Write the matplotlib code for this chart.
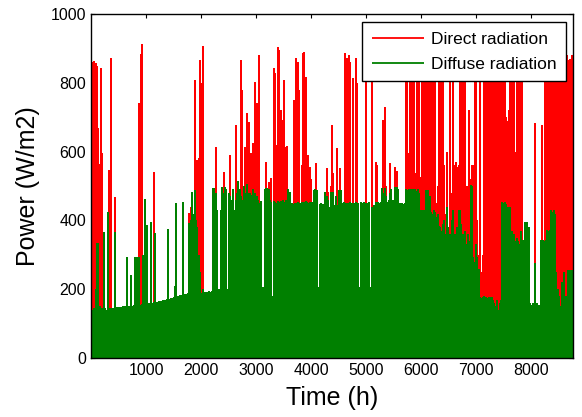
import numpy as np
import matplotlib
matplotlib.use("Agg")
from matplotlib import pyplot as plt

# daily peak radiation (W/m2), one list per month
direct_jan = [860, 855, 862, 858, 850, 670, 565, 843, 596, 110,
              90, 120, 100, 546, 80, 872, 100, 60, 468, 90,
              110, 70, 100, 120, 80, 100, 60, 130, 90, 110, 70]
direct_feb = [80, 100, 120, 90, 110, 740, 885, 912, 130, 100,
              120, 90, 110, 100, 120, 90, 541, 100, 120, 110,
              90, 130, 100, 120, 110, 130, 90, 110]
direct_mar = [100, 120, 90, 110, 130, 100, 120, 90, 110, 100,
              120, 130, 90, 110, 100, 421, 439, 300, 350, 808,
              300, 576, 580, 866, 800, 908, 150, 120, 100, 130, 110]
direct_apr = [120, 110, 130, 150, 613, 200, 150, 180, 300, 250,
              540, 350, 300, 150, 400, 590, 350, 420, 380, 677,
              400, 420, 450, 866, 779, 450, 613, 480, 711, 687]
direct_may = [480, 596, 625, 610, 803, 740, 500, 881, 430, 200,
              180, 440, 570, 440, 512, 450, 523, 160, 843, 828,
              620, 905, 895, 721, 692, 650, 808, 613, 615, 480, 470]
direct_jun = [400, 350, 750, 500, 872, 860, 779, 450, 560, 886,
              891, 817, 500, 590, 555, 520, 400, 350, 450, 567,
              300, 180, 350, 400, 300, 180, 350, 552, 483, 400]
direct_jul = [500, 677, 537, 300, 400, 610, 350, 552, 400, 300,
              450, 888, 872, 500, 881, 860, 450, 814, 400, 872,
              799, 300, 180, 350, 400, 380, 350, 860, 400, 350, 180]
direct_aug = [840, 400, 350, 570, 560, 400, 300, 350, 450, 692,
              730, 500, 400, 350, 567, 400, 300, 140, 555, 545,
              400, 350, 300, 400, 350, 450, 900, 870, 596, 950, 940]
direct_sep = [950, 900, 537, 920, 880, 940, 527, 900, 860, 930,
              890, 480, 900, 870, 600, 920, 880, 940, 450, 500,
              900, 930, 870, 910, 560, 420, 600, 350, 900, 480]
direct_oct = [450, 900, 560, 570, 555, 560, 900, 900, 930, 880,
              920, 500, 460, 720, 520, 561, 560, 900, 880, 400,
              300, 930, 250, 300, 900, 950, 920, 960, 930, 970, 940]
direct_nov = [950, 920, 960, 900, 940, 880, 930, 900, 950, 910,
              700, 690, 720, 920, 950, 900, 930, 600, 940, 900,
              960, 920, 880, 330, 300, 150, 320, 300, 140, 140]
direct_dec = [140, 140, 683, 140, 140, 145, 300, 677, 140, 920,
              950, 900, 880, 960, 930, 900, 870, 950, 920, 880,
              940, 900, 960, 920, 890, 930, 880, 866, 870, 840, 880]

diffuse_jan = [140, 140, 145, 200, 334, 334, 150, 140, 145, 366,
               145, 140, 424, 145, 145, 145, 145, 146, 366, 147,
               148, 148, 149, 149, 150, 150, 151, 293, 152, 152, 241]
diffuse_feb = [152, 153, 293, 293, 154, 293, 155, 156, 300, 462,
               158, 387, 159, 160, 395, 161, 162, 363, 163, 164,
               165, 166, 167, 168, 169, 170, 171, 375]
diffuse_mar = [172, 173, 175, 176, 209, 450, 180, 181, 182, 183,
               453, 185, 186, 187, 188, 392, 400, 482, 420, 488,
               400, 380, 300, 250, 190, 200, 190, 191, 192, 193, 194]
diffuse_apr = [193, 195, 494, 494, 480, 430, 200, 200, 430, 497,
               480, 497, 490, 200, 480, 470, 460, 490, 430, 460,
               480, 515, 490, 470, 460, 500, 480, 470, 505, 480]
diffuse_may = [480, 475, 490, 470, 480, 470, 460, 450, 455, 206,
               206, 490, 494, 494, 490, 460, 453, 180, 455, 453,
               450, 455, 453, 455, 450, 460, 453, 460, 455, 490, 482]
diffuse_jun = [450, 450, 448, 452, 450, 453, 450, 452, 453, 450,
               453, 455, 453, 450, 453, 452, 453, 488, 490, 485,
               488, 206, 447, 450, 447, 192, 482, 470, 460, 440]
diffuse_jul = [482, 482, 482, 445, 470, 445, 488, 488, 488, 450,
               453, 450, 452, 450, 450, 453, 450, 452, 450, 453,
               450, 452, 206, 453, 450, 453, 450, 452, 450, 453, 206]
diffuse_aug = [439, 439, 445, 453, 450, 453, 450, 453, 494, 480,
               494, 470, 453, 460, 480, 490, 460, 148, 497, 497,
               490, 450, 450, 450, 447, 450, 490, 488, 490, 485, 490]
diffuse_sep = [490, 488, 490, 485, 490, 480, 430, 430, 425, 430,
               488, 480, 488, 470, 425, 420, 430, 425, 410, 420,
               385, 380, 370, 390, 400, 360, 440, 380, 360, 334]
diffuse_oct = [400, 430, 360, 334, 380, 430, 430, 390, 360, 340,
               370, 330, 360, 340, 503, 500, 295, 280, 330, 295,
               260, 178, 175, 178, 180, 176, 178, 175, 178, 177, 176]
diffuse_nov = [170, 160, 150, 170, 140, 160, 170, 453, 450, 453,
               447, 440, 430, 440, 370, 330, 360, 340, 350, 340,
               330, 370, 340, 343, 395, 160, 395, 380, 160, 155]
diffuse_dec = [160, 150, 276, 160, 150, 155, 343, 160, 343, 340,
               343, 372, 370, 372, 430, 425, 430, 420, 250, 200,
               180, 150, 220, 140, 250, 180, 150, 256, 256, 250, 256]

direct = (direct_jan + direct_feb + direct_mar + direct_apr + direct_may + direct_jun
          + direct_jul + direct_aug + direct_sep + direct_oct + direct_nov + direct_dec)
diffuse = (diffuse_jan + diffuse_feb + diffuse_mar + diffuse_apr + diffuse_may + diffuse_jun
           + diffuse_jul + diffuse_aug + diffuse_sep + diffuse_oct + diffuse_nov + diffuse_dec)

plt.rcParams['font.family'] = ['Liberation Sans', 'DejaVu Sans']

fig, ax = plt.subplots(figsize=(5.82, 4.17), dpi=100)
fig.subplots_adjust(left=0.1564, right=0.9845, bottom=0.1415, top=0.9664)

# one bar per day, placed at midday of that day
h_direct = np.arange(len(direct)) * 24 + 12
h_diffuse = np.arange(len(diffuse)) * 24 + 12
ax.vlines(h_direct, 0, direct, colors='#ff0000', linewidth=1.3,
          antialiased=False, label='Direct radiation')
ax.vlines(h_diffuse, 0, diffuse, colors='#008000', linewidth=1.3,
          antialiased=False, label='Diffuse radiation')

ax.set_xlim(0, 8760)
ax.set_ylim(0, 1000)
ax.set_xticks([1000, 2000, 3000, 4000, 5000, 6000, 7000, 8000])
ax.set_yticks([0, 200, 400, 600, 800, 1000])
ax.tick_params(direction='in', top=True, right=True, length=3, labelsize=11.5, width=0.8)
for s in ax.spines.values():
    s.set_linewidth(1.0)
    s.set_color('black')

ax.set_xlabel('Time (h)', fontsize=18, labelpad=6)
ax.set_ylabel('Power (W/m2)', fontsize=18, labelpad=8)

leg = ax.legend(loc='upper right', bbox_to_anchor=(0.986, 0.976), borderaxespad=0,
                fontsize=12.5, fancybox=False, framealpha=1, edgecolor='black',
                handlelength=3.0, handletextpad=0.4, labelspacing=0.55, borderpad=0.55)
leg.get_frame().set_linewidth(1.0)
for line in leg.get_lines():
    line.set_antialiased(True)

fig.savefig('out.png', dpi=100)
